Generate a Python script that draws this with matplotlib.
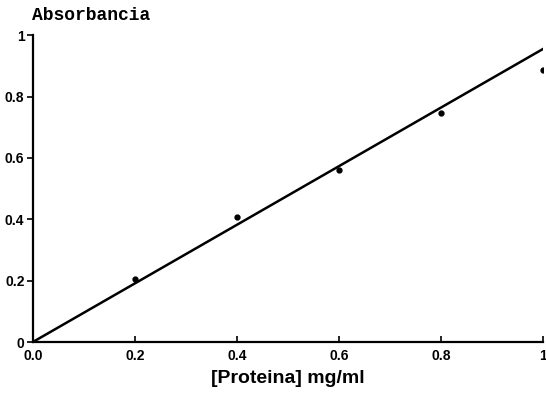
import matplotlib
matplotlib.use("Agg")
import matplotlib.pyplot as plt

conc = [0.2, 0.4, 0.6, 0.8, 1.0]
absorb = [0.205, 0.407, 0.56, 0.746, 0.886]
fit_x = [0.0, 1.0]
fit_y = [0.0, 0.955]
xticks = [0.0, 0.2, 0.4, 0.6, 0.8, 1.0]
xticklabels = ["0.0", "0.2", "0.4", "0.6", "0.8", "1"]
yticks = [0, 0.2, 0.4, 0.6, 0.8, 1.0]
yticklabels = ["0", "0.2", "0.4", "0.6", "0.8", "1"]

fig = plt.figure(figsize=(5.46, 3.95), dpi=100)
ax = fig.add_axes([0.060, 0.134, 0.9345, 0.777])
ax.plot(fit_x, fit_y, color="black", lw=1.8)
ax.plot(conc, absorb, "o", color="black", ms=3.5)
ax.set_xlim(0, 1)
ax.set_ylim(0, 1)
for s in ["top", "right"]:
    ax.spines[s].set_visible(False)
for s in ["left", "bottom"]:
    ax.spines[s].set_linewidth(1.6)
ax.set_xticks(xticks)
ax.set_xticklabels(xticklabels, fontfamily="Liberation Sans", fontweight="bold", fontsize=10)
ax.set_yticks(yticks)
ax.set_yticklabels(yticklabels, fontfamily="Liberation Sans", fontweight="bold", fontsize=10)
ax.tick_params(axis="x", direction="in", length=4, width=1.2, pad=5)
ax.tick_params(axis="y", direction="out", length=4, width=1.2, pad=2)
ax.set_xlabel("[Proteina] mg/ml", fontfamily="Liberation Sans", fontweight="bold", fontsize=14, labelpad=5)
fig.text(0.058, 0.94, "Absorbancia", fontfamily="Liberation Mono", fontweight="bold", fontsize=13, ha="left", va="bottom")
fig.savefig("out.png", dpi=100)
